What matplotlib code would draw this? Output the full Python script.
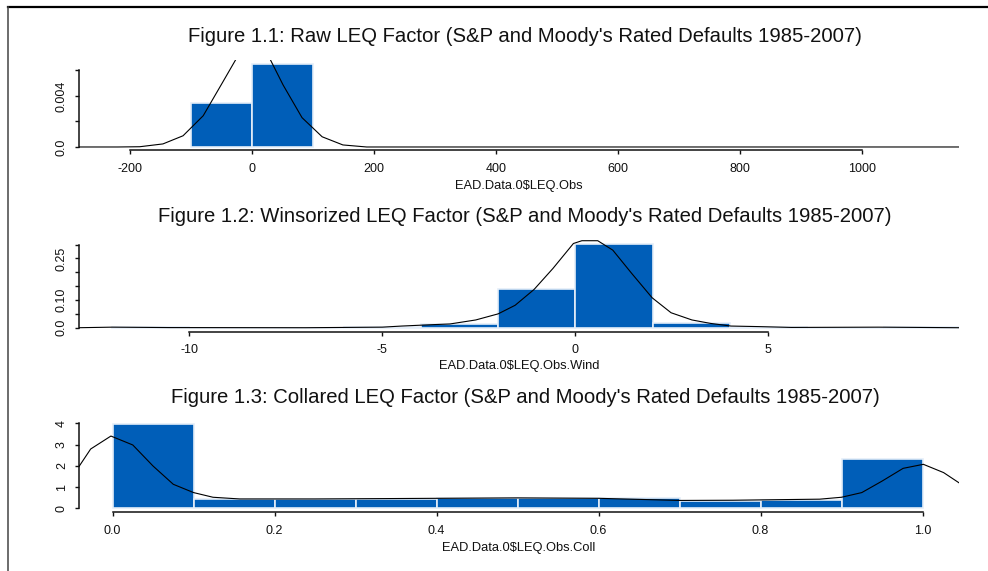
import numpy as np
import matplotlib
matplotlib.use("Agg")
import matplotlib.pyplot as plt
from matplotlib.lines import Line2D

plt.rcParams['font.family'] = ['Liberation Sans', 'DejaVu Sans']

BAR = '#005EB8'
EDGE = '#E4EDF8'
W, H = 988, 571

tail = "(S&P and Moody's Rated Defaults 1985-2007)"

# Figure 1.1: raw LEQ factor
raw_breaks = [-100, 0, 100]
raw_heights = [0.00343, 0.00653]
raw_dens_x = [-284, -220, -184, -146, -113, -80, -49, -20, 12, 20, 51, 82, 115, 149, 188, 240, 1159]
raw_dens_y = [0, 0, 0.00002, 0.00024, 0.00088, 0.00245, 0.0050, 0.0074, 0.0081, 0.0078,
              0.00486, 0.0023, 0.0008, 0.00016, 0.0, 0, 0]
raw_xticks = [-200, 0, 200, 400, 600, 800, 1000]
raw_yticks = [0, 0.002, 0.004, 0.006]
raw_ylabels = ["0.0", "", "0.004", ""]

# Figure 1.2: winsorized LEQ factor
win_breaks = [-12, -10, -8, -6, -4, -2, 0, 2, 4, 6, 8, 10]
win_heights = [0.003, 0.0, 0.0, 0.003, 0.014, 0.14, 0.301, 0.016, 0.002, 0.0, 0.002]
win_dens_x = [-12.86, -12.0, -10.5, -7.0, -5.0, -4.5, -3.7, -3.25, -2.58, -2.0, -1.56, -1.07, -0.58,
              -0.05, 0.17, 0.58, 0.97, 1.46, 1.99, 2.48, 3.02, 3.5, 4.03, 4.75, 5.6, 7.86, 9.94]
win_dens_y = [0.0, 0.002, 0.0005, 0.0, 0.002, 0.006, 0.011, 0.0135, 0.028, 0.05, 0.081, 0.138, 0.214,
              0.304, 0.314, 0.314, 0.28, 0.196, 0.108, 0.054, 0.028, 0.0156, 0.006, 0.004, 0.001, 0.002, 0.0]
win_xticks = [-10, -5, 0, 5]
win_yticks = [0, 0.05, 0.10, 0.15, 0.20, 0.25, 0.30]
win_ylabels = ["0.0", "", "0.10", "", "", "0.25", ""]

# Figure 1.3: collared LEQ factor
col_breaks = [0.0, 0.1, 0.2, 0.3, 0.4, 0.5, 0.6, 0.7, 0.8, 0.9, 1.0]
col_heights = [3.95, 0.42, 0.42, 0.45, 0.47, 0.47, 0.47, 0.36, 0.39, 2.33]
col_dens_x = [-0.041, -0.027, -0.002, 0.025, 0.05, 0.075, 0.10, 0.124, 0.157, 0.25, 0.4, 0.5, 0.6,
              0.7, 0.766, 0.873, 0.90, 0.925, 0.95, 0.976, 1.001, 1.026, 1.045]
col_dens_y = [1.99, 2.79, 3.40, 2.98, 1.99, 1.13, 0.74, 0.52, 0.44, 0.44, 0.47, 0.49, 0.47,
              0.37, 0.38, 0.43, 0.52, 0.74, 1.28, 1.88, 2.07, 1.68, 1.2]
col_xticks = [0.0, 0.2, 0.4, 0.6, 0.8, 1.0]
col_xlabels = ["0.0", "0.2", "0.4", "0.6", "0.8", "1.0"]
col_yticks = [0, 1, 2, 3, 4]
col_ylabels = ["0", "1", "2", "3", "4"]

fig = plt.figure(figsize=(W / 100, H / 100), dpi=100)


def panel(top, bottom, breaks, heights, dx, dy, xlim, ylim,
          xticks, xlabels, yticks, ylabels, title, title_y, xlab, xlab_y):
    ax = fig.add_axes([79 / W, 1 - bottom / H, 880 / W, (bottom - top) / H])
    b = np.array(breaks, dtype=float)
    ax.bar(b[:-1], heights, width=np.diff(b), align='edge',
           color=BAR, edgecolor=EDGE, linewidth=1.2, zorder=2)
    ax.plot(dx, dy, color='black', lw=0.8, zorder=3)
    ax.set_xlim(*xlim)
    ax.set_ylim(*ylim)
    for s in ('top', 'right'):
        ax.spines[s].set_visible(False)
    ax.spines['left'].set_bounds(yticks[0], yticks[-1])
    ax.spines['bottom'].set_bounds(xticks[0], xticks[-1])
    for s in ('left', 'bottom'):
        ax.spines[s].set_linewidth(1.1)
        ax.spines[s].set_color('#111111')
    ax.set_xticks(xticks)
    ax.set_xticklabels(xlabels)
    ax.set_yticks(yticks)
    ax.set_yticklabels(ylabels, rotation=90, va='center')
    ax.tick_params(axis='both', length=3, width=1.0, labelsize=9, colors='#111111')
    ax.tick_params(axis='x', pad=6)
    ax.tick_params(axis='y', pad=5)
    fig.text(525 / W, 1 - title_y / H, title, ha='center', va='center',
             fontsize=14.6, color='#111111')
    fig.text(519 / W, 1 - xlab_y / H, xlab, ha='center', va='center',
             fontsize=9.3, color='#111111')
    return ax


panel(60, 150.3, raw_breaks, raw_heights, raw_dens_x, raw_dens_y,
      (-283.6, 1159), (-0.00026, 0.00682),
      raw_xticks, [str(v) for v in raw_xticks], raw_yticks, raw_ylabels,
      "Figure 1.1: Raw LEQ Factor " + tail, 36,
      "EAD.Data.0\\$LEQ.Obs", 186)

panel(232.6, 331.7, win_breaks, win_heights, win_dens_x, win_dens_y,
      (-12.86, 9.94), (-0.0144, 0.3433),
      win_xticks, [str(v) for v in win_xticks], win_yticks, win_ylabels,
      "Figure 1.2: Winsorized LEQ Factor " + tail, 217,
      "EAD.Data.0\\$LEQ.Obs.Wind", 366.5)

panel(420, 512.3, col_breaks, col_heights, col_dens_x, col_dens_y,
      (-0.0414, 1.045), (-0.188, 4.155),
      col_xticks, col_xlabels, col_yticks, col_ylabels,
      "Figure 1.3: Collared LEQ Factor " + tail, 397.5,
      "EAD.Data.0\\$LEQ.Obs.Coll", 548)

# frame lines along the top and left edge
fig.add_artist(Line2D([8 / W, 1], [1 - 7 / H, 1 - 7 / H], color='black', lw=1.6))
fig.add_artist(Line2D([8 / W, 8 / W], [0, 1 - 7 / H], color='#444444', lw=1.1))

fig.savefig('out.png', dpi=100, facecolor='white')
